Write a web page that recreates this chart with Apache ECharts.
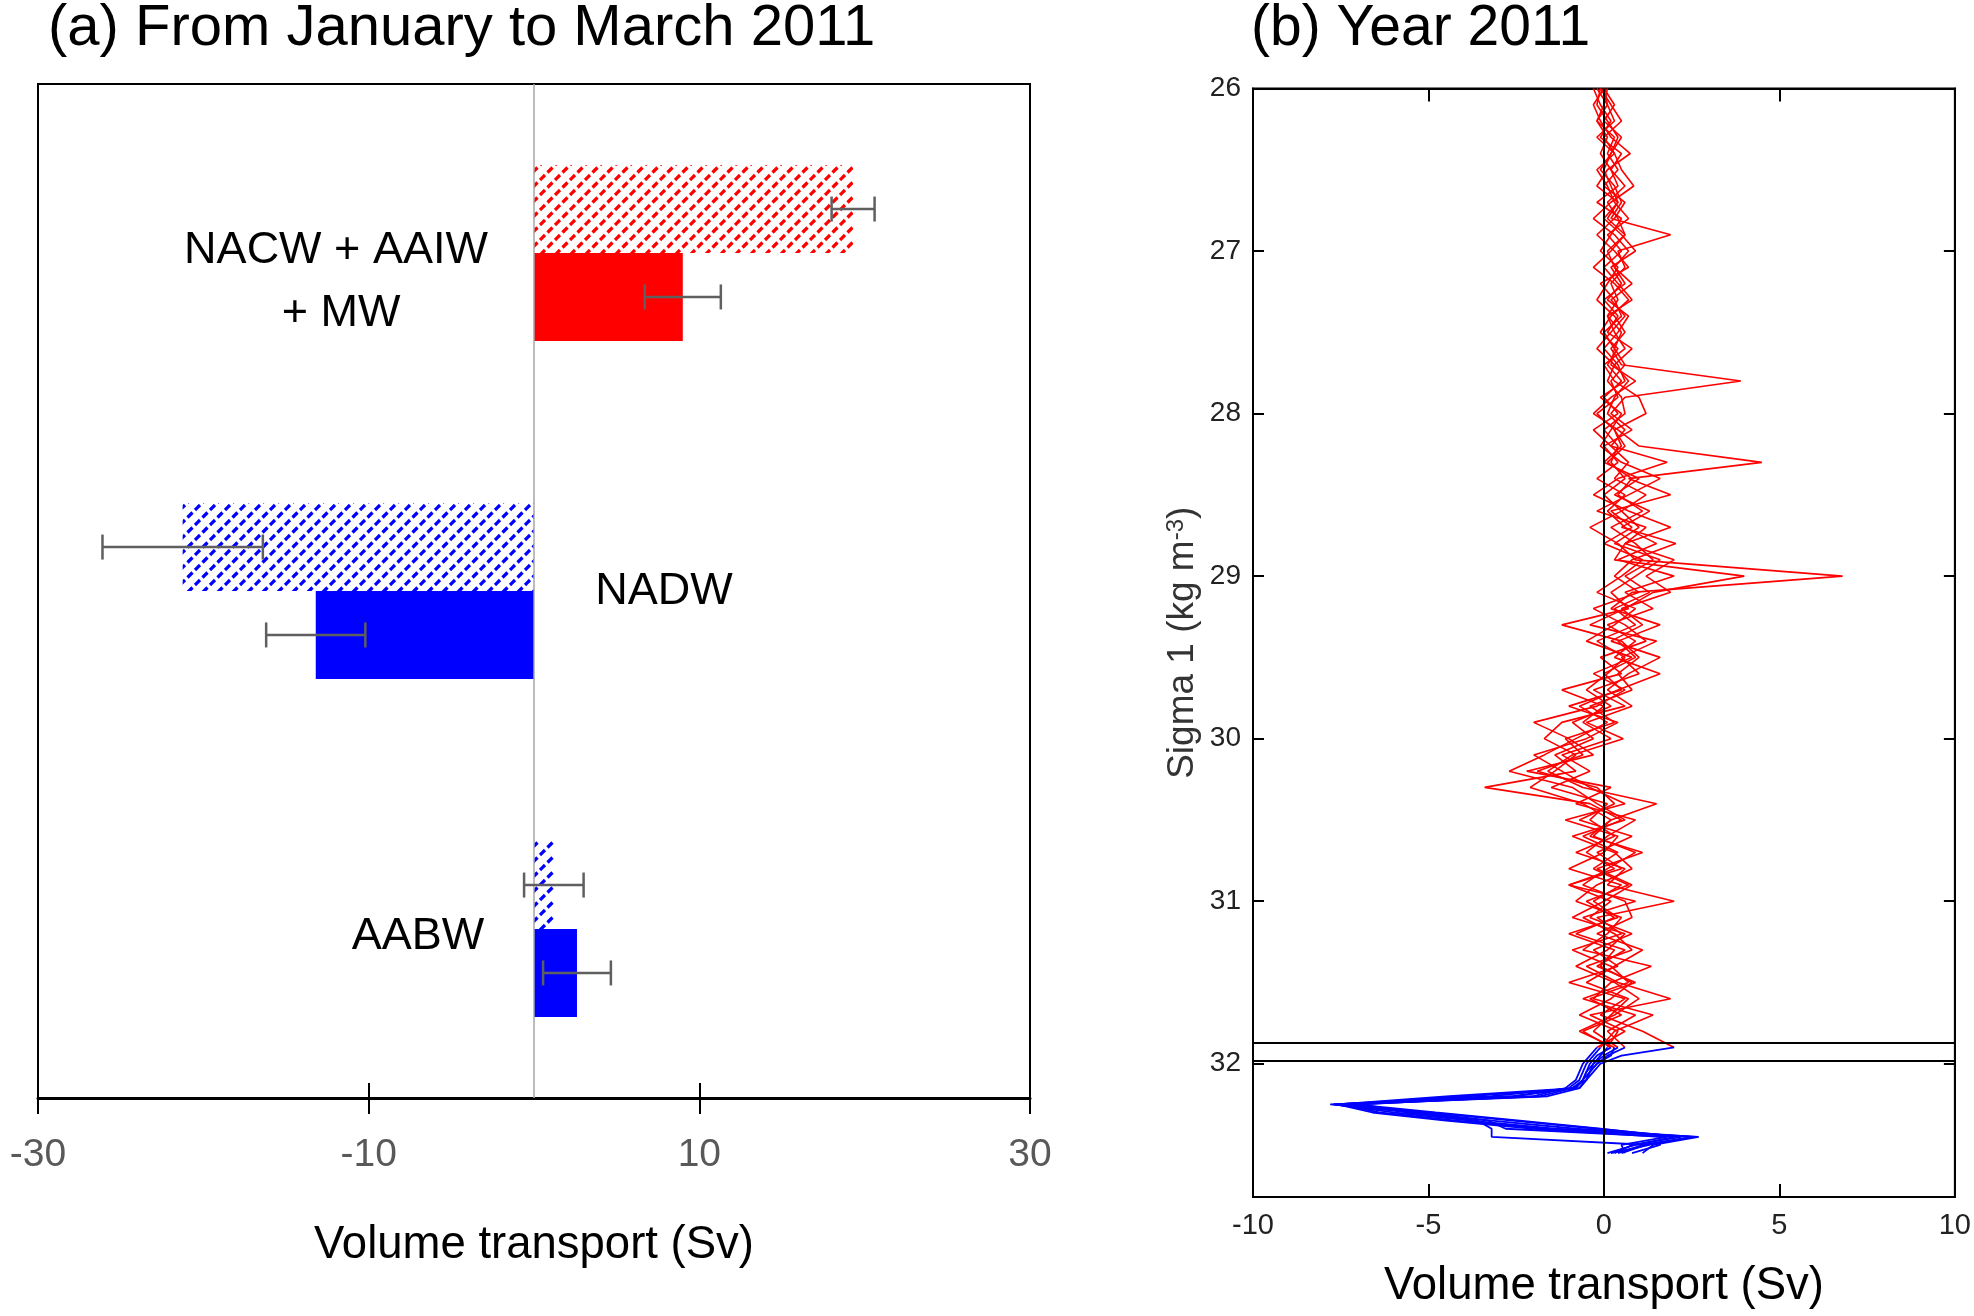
<!DOCTYPE html>
<html><head><meta charset="utf-8">
<script src="https://cdn.jsdelivr.net/npm/echarts@6/dist/echarts.min.js"></script>
<style>html,body{margin:0;padding:0;background:#fff}#c{width:1974px;height:1316px}</style>
</head><body><div id="c"></div>
<script>
// ---------- Panel (a) data ----------
const categories = ['NACW + AAIW + MW', 'NADW', 'AABW'];
const hatchedValues = [19.3, -21.25, 1.2];
const hatchedErrors = [1.3, 4.85, 1.8];
const solidValues = [9.0, -13.2, 2.6];
const solidErrors = [2.3, 3.0, 2.05];

// ---------- Panel (b) data ----------
const sigmaTicks = [26, 27, 28, 29, 30, 31, 32];
const boundarySigma = [31.87, 31.975];
const sigmaLevels = [
  26.0,26.1,26.2,26.3,26.4,26.5,26.6,26.7,26.8,26.9,
  27.0,27.1,27.2,27.3,27.4,27.5,27.6,27.7,27.8,27.9,
  28.0,28.1,28.2,28.3,28.4,28.5,28.6,28.7,28.8,28.9,
  29.0,29.1,29.2,29.3,29.4,29.5,29.6,29.7,29.8,29.9,
  30.0,30.1,30.2,30.3,30.4,30.5,30.6,30.7,30.8,30.9,
  31.0,31.1,31.2,31.3,31.4,31.5,31.6,31.7,31.8,31.9];
const profile1 = [-0.1,-0.2,0.1,0.4,0.2,-0.1,0.3,0.5,0.2,1.9,
  0.4,0.6,0.2,0.4,0.1,0.5,0.3,0.6,0.2,0.4,
  -0.2,0.3,0.6,0.1,0.8,0.4,1.1,0.2,0.9,1.4,
  0.6,1.3,0.3,0.9,-0.2,0.6,0.1,-0.5,0.2,-0.9,
  -0.3,-1.4,-0.8,-3.4,-0.4,0.5,-0.6,0.4,-0.3,0.7,
  -0.5,0.3,-0.8,0.6,-0.2,0.9,-0.4,0.5,-0.6,0.2];
const profile2 = [0.0,-0.3,-0.1,0.2,0.75,0.1,-0.2,0.4,0.1,0.6,
  0.2,-0.3,0.3,0.7,0.2,-0.1,0.4,0.1,0.5,0.0,
  0.4,-0.3,0.2,0.7,0.3,1.2,0.5,1.0,0.3,1.6,
  0.9,0.2,0.7,-1.2,0.5,1.0,0.4,0.8,-0.4,0.3,
  -1.1,-0.6,-1.9,-0.2,0.3,-0.7,0.8,-0.2,0.5,-1.0,
  0.2,-0.4,0.8,-0.3,0.4,-1.0,0.6,-0.1,1.1,2.0];
const profile3 = [-0.2,0.1,0.3,-0.2,0.3,0.5,0.85,0.2,-0.3,0.3,
  0.7,0.3,0.8,0.2,0.6,0.2,-0.2,0.3,0.7,0.3,
  0.1,0.6,0.2,1.8,0.4,-0.3,0.7,1.9,0.6,2.0,
  1.2,1.9,0.5,1.1,0.2,1.6,0.7,0.1,0.8,-0.5,
  0.55,-0.9,-1.6,-0.6,1.5,0.2,-0.3,0.9,0.1,-0.6,
  0.6,0.8,-0.2,1.1,0.3,-0.5,0.7,0.2,-0.3,0.4];
const profile4 = [0.1,0.0,-0.2,0.1,-0.1,0.2,0.4,-0.2,0.5,0.2,
  -0.1,0.4,0.1,-0.2,0.3,0.6,0.2,0.5,3.9,0.6,
  0.2,0.8,0.0,0.4,-0.2,0.6,0.1,0.6,1.5,0.4,
  2.0,0.6,1.4,0.1,0.9,0.3,1.6,0.4,-0.7,0.1,
  -0.8,-1.7,-2.7,-0.9,-0.2,0.6,-0.9,0.3,0.8,-0.2,
  -0.8,0.5,0.1,-0.6,1.35,0.2,-0.3,1.4,0.3,-0.1];
const profile5 = [-0.1,0.2,0.5,0.0,0.3,-0.2,0.1,0.3,0.7,0.1,
  0.5,0.0,0.4,0.8,0.1,0.3,0.6,0.0,0.3,1.0,
  1.2,0.3,0.5,0.0,1.0,0.3,1.3,0.5,2.05,0.8,
  0.3,1.0,-0.3,0.6,1.2,-0.1,0.5,-1.2,0.0,-0.6,
  0.2,-1.2,-0.4,-1.5,0.1,-0.4,0.3,-0.8,0.6,0.1,
  2.0,-0.2,0.5,-0.9,0.2,0.7,-0.6,0.9,0.1,0.6];
const profile6 = [0.0,0.1,-0.2,0.3,0.1,0.4,0.0,0.6,0.3,-0.2,
  0.3,0.7,-0.1,0.3,0.5,0.0,0.3,0.2,0.9,0.2,
  -0.3,0.4,1.0,4.5,0.7,1.9,0.2,0.8,0.0,1.1,
  0.5,-0.2,0.9,0.3,-0.5,0.8,-0.3,0.6,-0.2,-2.0,
  -1.0,-0.3,-2.2,0.2,-0.8,0.9,0.1,-0.5,0.3,-1.0,
  0.9,-0.6,0.3,0.8,-0.5,0.4,1.9,-0.4,0.6,-0.2];
const profile7 = [-0.3,-0.1,0.2,-0.1,0.5,0.2,0.6,0.1,0.4,0.6,
  0.1,0.3,0.6,0.0,0.4,0.1,0.8,0.3,0.1,0.5,
  0.6,0.0,0.4,0.2,0.6,0.0,0.5,-0.4,0.4,0.9,
  6.8,0.8,0.2,1.6,0.4,0.9,0.0,0.5,-1.0,0.4,
  -0.5,-2.0,-1.2,-0.4,0.6,-1.1,0.4,0.0,-1.0,0.5,
  -0.3,0.4,-1.0,0.3,-0.1,0.8,0.2,-0.7,0.4,0.1];
const profile8 = [0.0,0.3,0.0,0.5,0.2,0.0,0.2,0.4,0.0,0.5,
  0.9,0.2,0.5,0.1,0.7,0.4,0.0,0.4,0.6,-0.1,
  0.5,0.2,-0.1,0.5,1.6,0.7,-0.2,1.2,0.6,0.3,
  4.0,1.4,0.6,-0.4,1.5,0.5,1.0,-0.3,0.6,-1.2,
  -1.7,-0.8,-1.4,-2.1,-0.6,0.2,-0.4,1.1,-0.2,0.8,
  0.0,-0.9,0.6,0.1,-0.8,0.3,1.0,0.3,-0.7,0.3];

const blueSigma = [31.9,31.95,32.0,32.05,32.1,32.15,32.2,32.25,32.3,32.35,32.4,32.45,32.5,32.55];
const blue1 = [0.2,-0.2,-0.4,-0.5,-0.6,-0.8,-2.6,-7.7,-5.5,-3.2,-0.8,2.6,1.2,0.5];
const blue2 = [2.0,0.5,-0.1,-0.3,-0.5,-0.7,-3.8,-7.5,-6.4,-4.2,-1.6,2.7,1.4,1.1];
const blue3 = [0.4,0.0,-0.3,-0.4,-0.5,-0.9,-1.8,-7.8,-5.0,-2.6,-0.2,2.2,0.8,0.3];
const blue4 = [-0.1,-0.3,-0.5,-0.6,-0.7,-1.0,-2.5,-6.9,-5.6,-3.6,-3.2,-3.2,1.3,0.2];
const blue5 = [0.6,0.1,-0.2,-0.4,-0.6,-0.8,-4.4,-7.6,-6.6,-4.5,-2.0,1.6,1.6,0.8];
const blue6 = [-0.2,-0.4,-0.6,-0.7,-0.8,-1.1,-2.0,-7.1,-4.8,-2.4,-0.1,2.0,0.9,0.1];
const blue7 = [0.1,-0.1,-0.3,-0.5,-0.6,-0.9,-3.2,-7.7,-6.0,-3.8,-1.4,2.5,1.1,0.4];
const blue8 = [0.3,0.2,-0.2,-0.4,-0.5,-0.7,-1.6,-7.3,-5.2,-3.3,-2.8,1.8,0.5,0.6];

const redProfiles = [profile1, profile2, profile3, profile4, profile5, profile6, profile7, profile8];
const blueProfiles = [blue1, blue2, blue3, blue4, blue5, blue6, blue7, blue8];

// ---------- styles ----------
const RED = '#ff0000', BLUE = '#0000ff';
const FONT = '"Liberation Sans", Arial, sans-serif';

function hatch(color) {
  const s = 15, c = document.createElement('canvas');
  c.width = s; c.height = s;
  const g = c.getContext('2d');
  g.fillStyle = '#fff'; g.fillRect(0, 0, s, s);
  g.strokeStyle = color; g.lineWidth = 3.2;
  const L = Math.SQRT2 * s;
  g.setLineDash([L / 3, L / 6]);
  [[-s, 2 * s, 2 * s, -s], [-s, s, s, -s], [0, 2 * s, 2 * s, 0]].forEach(l => {
    g.beginPath(); g.moveTo(l[0], l[1]); g.lineTo(l[2], l[3]); g.stroke();
  });
  return c;
}
const redHatch = { image: hatch(RED), repeat: 'repeat' };
const blueHatch = { image: hatch(BLUE), repeat: 'repeat' };
const catColor = i => (i === 0 ? RED : BLUE);

const chart = echarts.init(document.getElementById('c'), null, { renderer: 'canvas' });

const errData = categories.map((c, i) => [hatchedValues[i], i, hatchedErrors[i], 0])
  .concat(categories.map((c, i) => [solidValues[i], i, solidErrors[i], 1]));

const series = [
  {
    type: 'bar', xAxisIndex: 0, yAxisIndex: 0, barWidth: '26%', barGap: '0%',
    data: hatchedValues.map((v, i) => ({ value: v, itemStyle: { color: i === 0 ? redHatch : blueHatch } })),
    markLine: { symbol: 'none', silent: true, label: { show: false },
      lineStyle: { color: '#a6a6a6', width: 1.5, type: 'solid' }, data: [{ xAxis: 0 }] }
  },
  {
    type: 'bar', xAxisIndex: 0, yAxisIndex: 0, barWidth: '26%', barGap: '0%',
    data: solidValues.map((v, i) => ({ value: v, itemStyle: { color: catColor(i) } }))
  },
  {
    type: 'custom', xAxisIndex: 0, yAxisIndex: 0, z: 10,
    encode: { x: 0, y: 1 },
    data: errData,
    renderItem: function (params, api) {
      const v = api.value(0), ci = api.value(1), e = api.value(2), slot = api.value(3);
      const c = api.coord([v, ci]);
      const bw = api.size([0, 1])[1] * 0.26;
      const y = c[1] + (slot === 0 ? -bw / 2 : bw / 2);
      const x1 = api.coord([v - e, ci])[0], x2 = api.coord([v + e, ci])[0];
      const h = 12.5;
      const st = { stroke: '#5f5f5f', lineWidth: 2.5 };
      return { type: 'group', children: [
        { type: 'line', shape: { x1: x1, y1: y, x2: x2, y2: y }, style: st },
        { type: 'line', shape: { x1: x1, y1: y - h, x2: x1, y2: y + h }, style: st },
        { type: 'line', shape: { x1: x2, y1: y - h, x2: x2, y2: y + h }, style: st }
      ] };
    }
  }
];

redProfiles.forEach(p => {
  series.push({
    type: 'line', xAxisIndex: 2, yAxisIndex: 1, showSymbol: false, symbol: 'none', z: 2,
    lineStyle: { color: RED, width: 1.6 },
    data: sigmaLevels.map((s, i) => [p[i], s])
  });
});
blueProfiles.forEach(p => {
  series.push({
    type: 'line', xAxisIndex: 2, yAxisIndex: 1, showSymbol: false, symbol: 'none', z: 3,
    lineStyle: { color: BLUE, width: 1.8 },
    data: blueSigma.map((s, i) => [p[i], s])
  });
});
series.push({
  type: 'line', xAxisIndex: 2, yAxisIndex: 1, z: 6, showSymbol: false, symbol: 'none',
  lineStyle: { opacity: 0 }, data: [[0, 26]],
  markLine: { symbol: 'none', silent: true, label: { show: false },
    lineStyle: { color: '#000', width: 2, type: 'solid' },
    data: [{ xAxis: 0 }].concat(boundarySigma.map(s => ({ yAxis: s }))) }
});

const option = {
  animation: false,
  backgroundColor: '#fff',
  textStyle: { fontFamily: FONT },
  grid: [
    { left: 38, top: 84, width: 992, height: 1014, show: true, borderColor: '#000', borderWidth: 2, containLabel: false },
    { left: 1253, top: 88.5, width: 706, height: 1108.5, show: true, borderColor: '#000', borderWidth: 2, containLabel: false }
  ],
  xAxis: [
    { type: 'value', gridIndex: 0, position: 'bottom', min: -30, max: 30, interval: 20,
      axisLine: { show: true, onZero: false, lineStyle: { color: '#000', width: 3 } },
      axisTick: { show: true, length: 16, lineStyle: { color: '#000', width: 2 } },
      splitLine: { show: false },
      axisLabel: { fontSize: 39, color: '#595959', margin: 38, fontFamily: FONT },
      name: 'Volume transport (Sv)', nameLocation: 'middle', nameGap: 124,
      nameTextStyle: { fontSize: 45.5, color: '#000', fontFamily: FONT } },
    { type: 'value', gridIndex: 0, position: 'bottom', min: -30, max: 30, interval: 20,
      axisLine: { show: false, onZero: false }, axisLabel: { show: false }, splitLine: { show: false },
      axisTick: { show: true, inside: true, length: 15, lineStyle: { color: '#000', width: 2 } } },
    { type: 'value', gridIndex: 1, position: 'bottom', min: -10, max: 10, interval: 5,
      axisLine: { show: true, onZero: false, lineStyle: { color: '#000', width: 2 } },
      axisTick: { show: true, inside: true, length: 13, lineStyle: { color: '#000', width: 2 } },
      splitLine: { show: false },
      axisLabel: { fontSize: 29, color: '#222', margin: 14, fontFamily: FONT },
      name: 'Volume transport (Sv)', nameLocation: 'middle', nameGap: 66,
      nameTextStyle: { fontSize: 45.5, color: '#000', fontFamily: FONT } },
    { type: 'value', gridIndex: 1, position: 'top', min: -10, max: 10, interval: 5,
      axisLine: { show: true, onZero: false, lineStyle: { color: '#000', width: 2 } },
      axisTick: { show: true, inside: true, length: 13, lineStyle: { color: '#000', width: 2 } },
      splitLine: { show: false }, axisLabel: { show: false } }
  ],
  yAxis: [
    { type: 'category', gridIndex: 0, data: categories, inverse: true,
      axisLine: { show: false, onZero: false }, axisTick: { show: false }, axisLabel: { show: false }, splitLine: { show: false } },
    { type: 'value', gridIndex: 1, position: 'left', inverse: true, min: 26, max: 32.82, interval: 1,
      axisLine: { show: true, onZero: false, lineStyle: { color: '#000', width: 2 } },
      axisTick: { show: true, inside: true, length: 11, customValues: sigmaTicks, lineStyle: { color: '#000', width: 2 } },
      splitLine: { show: false },
      axisLabel: { fontSize: 28, color: '#222', margin: 12, customValues: sigmaTicks, fontFamily: FONT },
      name: 'Sigma 1 (kg m{sup|-3})', nameLocation: 'middle', nameGap: 52,
      nameTextStyle: { fontSize: 37, color: '#333', fontFamily: FONT,
        rich: { sup: { fontSize: 24, color: '#333', verticalAlign: 'top', fontFamily: FONT } } } },
    { type: 'value', gridIndex: 1, position: 'right', inverse: true, min: 26, max: 32.82, interval: 1,
      axisLine: { show: true, onZero: false, lineStyle: { color: '#000', width: 2 } },
      axisTick: { show: true, inside: true, length: 11, customValues: sigmaTicks, lineStyle: { color: '#000', width: 2 } },
      splitLine: { show: false }, axisLabel: { show: false } }
  ],
  graphic: [
    { type: 'text', x: 48, y: 29, style: { text: '(a) From January to March 2011', fontSize: 58, fontFamily: FONT, fill: '#000', align: 'left', verticalAlign: 'middle' } },
    { type: 'text', x: 1251, y: 29, style: { text: '(b) Year 2011', fontSize: 57, fontFamily: FONT, fill: '#000', align: 'left', verticalAlign: 'middle' } },
    { type: 'text', x: 336, y: 251, style: { text: 'NACW + AAIW', fontSize: 45, fontFamily: FONT, fill: '#000', align: 'center', verticalAlign: 'middle' } },
    { type: 'text', x: 341, y: 314, style: { text: '+ MW', fontSize: 45, fontFamily: FONT, fill: '#000', align: 'center', verticalAlign: 'middle' } },
    { type: 'text', x: 664, y: 592, style: { text: 'NADW', fontSize: 45, fontFamily: FONT, fill: '#000', align: 'center', verticalAlign: 'middle' } },
    { type: 'text', x: 418, y: 937, style: { text: 'AABW', fontSize: 45, fontFamily: FONT, fill: '#000', align: 'center', verticalAlign: 'middle' } }
  ],
  series: series
};
chart.setOption(option);
</script>
</body></html>
